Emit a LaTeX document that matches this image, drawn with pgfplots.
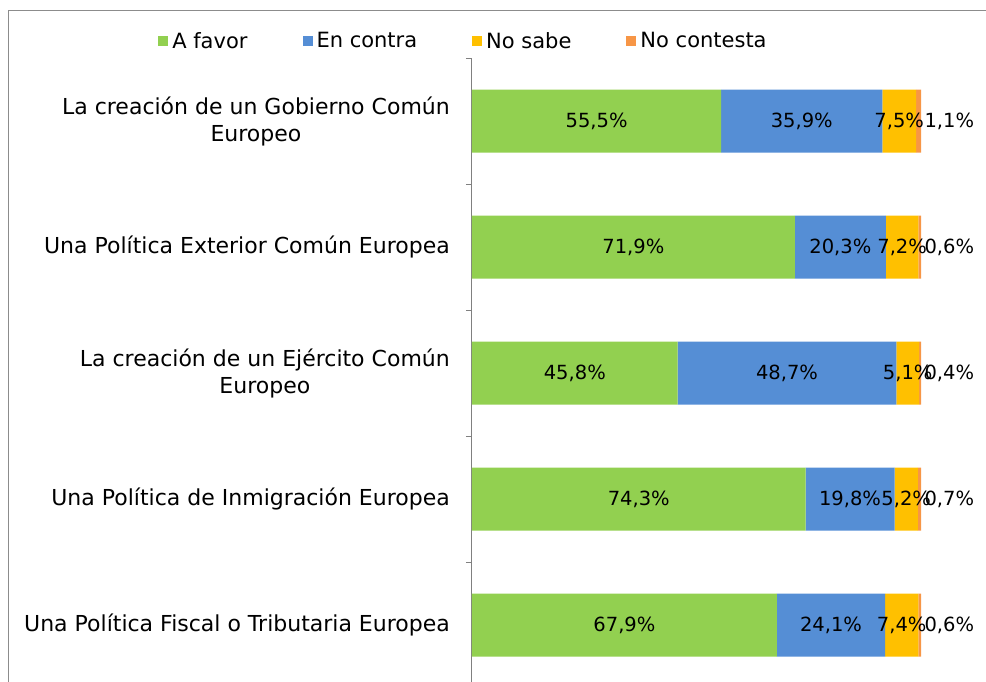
\documentclass[border=0pt]{standalone}
\usepackage{pgfplots}
\pgfplotsset{compat=1.18}
\usepackage{fontspec}
\setmainfont{DejaVu Sans}
\definecolor{cfavor}{HTML}{92D050}
\definecolor{ccontra}{HTML}{558ED5}
\definecolor{cnosabe}{HTML}{FFC000}
\definecolor{cnocont}{HTML}{F79646}
\begin{document}
\begin{tikzpicture}[x=1pt,y=1pt]
\useasboundingbox (0,0) rectangle (986,682);
\draw[gray!90, line width=1pt] (8,-20) -- (8,671.5) -- (1000,671.5);
\begin{axis}[
  at={(472pt,-6pt)}, anchor=south west,
  scale only axis, width=449pt, height=630pt,
  xbar stacked, bar width=63pt,
  xmin=0, xmax=100,
  ymin=-0.5, ymax=4.5, y dir=reverse,
  axis x line=none, axis y line*=left,
  ytick={0,1,2,3,4},
  yticklabels={{La creación de un Gobierno Común\\Europeo},
               {Una Política Exterior Común Europea},
               {La creación de un Ejército Común\\Europeo},
               {Una Política de Inmigración Europea},
               {Una Política Fiscal o Tributaria Europea}},
  major tick length=0pt,
  minor ytick={-0.5,0.5,1.5,2.5,3.5,4.5},
  minor tick length=6pt,
  tick align=outside,
  y axis line style={gray, line width=1pt},
  minor tick style={gray, line width=1pt},
  yticklabel style={align=center, inner sep=0pt, xshift=-22pt,
     font=\fontsize{22}{27}\selectfont},
  point meta=rawx,
  visualization depends on={rawx \as \rawx},
  nodes near coords={\pgfmathprintnumber{\pgfplotspointmeta}\%},
  /pgf/number format/.cd, use comma, fixed, fixed zerofill, precision=1, assume math mode=true,
  /pgfplots/.cd,
  every node near coord/.append style={font=\fontsize{19.5}{22}\selectfont, text=black,
     anchor=center},
  legend style={at={(-0.019,1)}, anchor=center, yshift=17pt, draw=none,
     legend columns=4, font=\fontsize{21}{22}\selectfont,
     /tikz/every odd column/.append style={column sep=2pt},
     /tikz/every even column/.append style={column sep=53pt}},
  legend image code/.code={\fill[#1, draw=none] (0pt,-5pt) rectangle (10pt,5pt);},
]
\addplot[fill=cfavor, draw=none] coordinates {(55.5,0) (71.9,1) (45.8,2) (74.3,3) (67.9,4)};
\addplot[fill=ccontra, draw=none] coordinates {(35.9,0) (20.3,1) (48.7,2) (19.8,3) (24.1,4)};
\addplot[fill=cnosabe, draw=none] coordinates {(7.5,0) (7.2,1) (5.1,2) (5.2,3) (7.4,4)};
\addplot[fill=cnocont, draw=none,
   every node near coord/.append style={anchor=west, xshift={\rawx*2.245pt}}]
   coordinates {(1.1,0) (0.6,1) (0.4,2) (0.7,3) (0.6,4)};
\legend{A favor, En contra, No sabe, No contesta}
\end{axis}
\end{tikzpicture}
\end{document}
